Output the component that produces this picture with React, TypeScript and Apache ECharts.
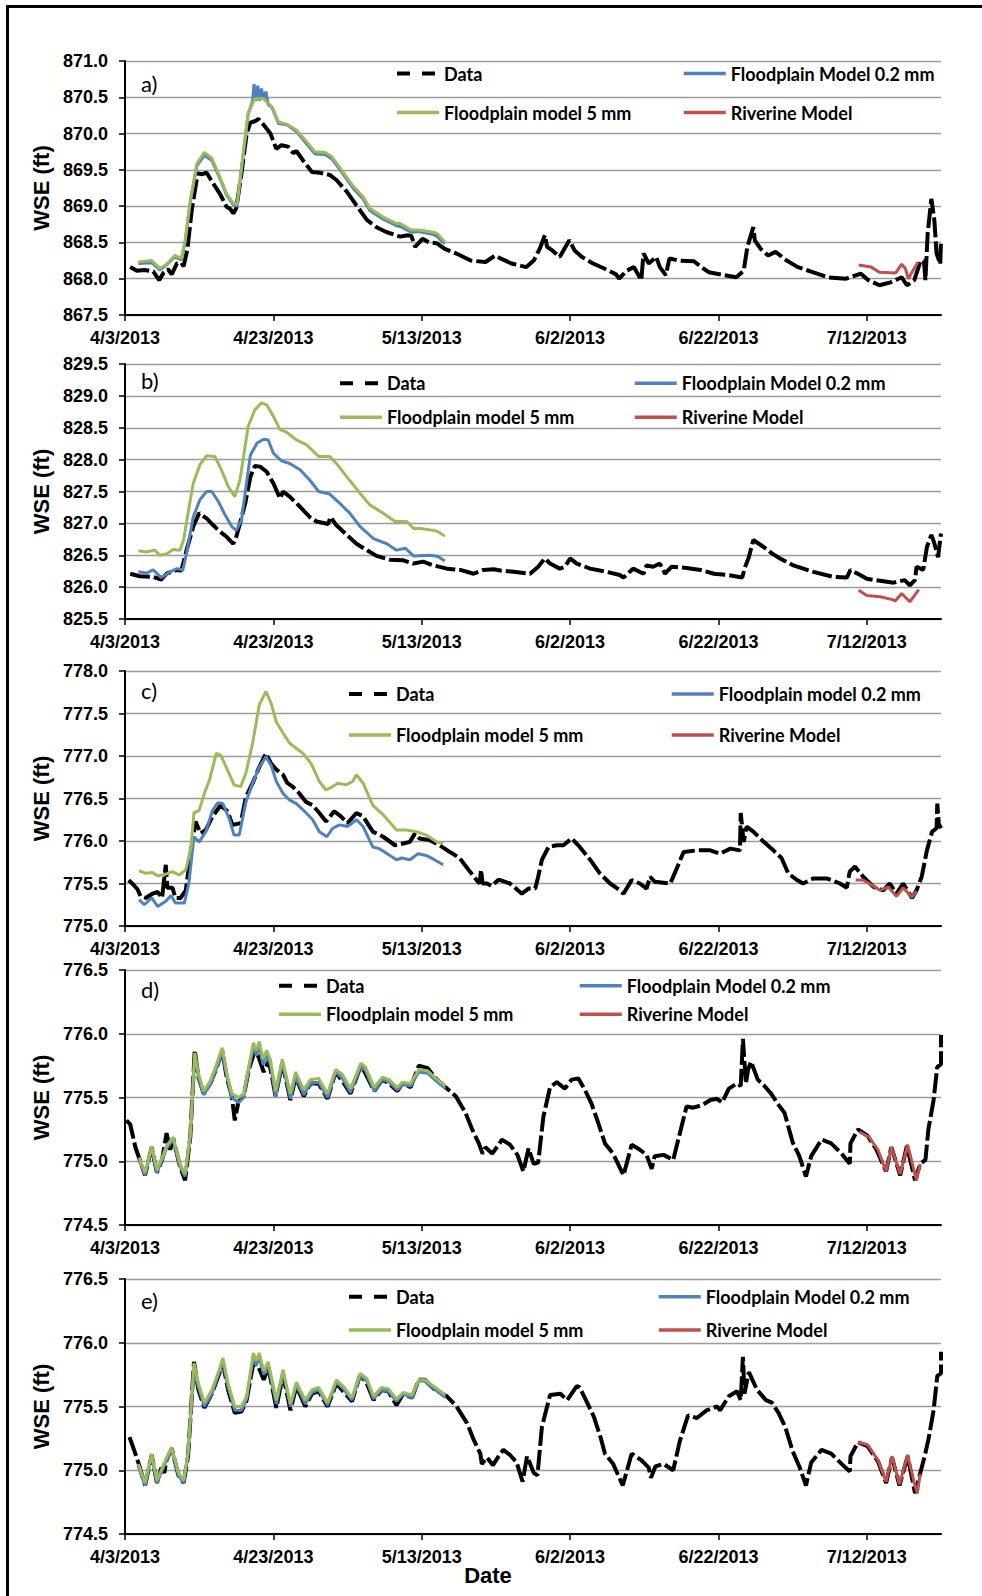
import React, { useEffect, useRef } from "react";
import * as echarts from "echarts";

// x values are days after 4/3/2013
const xTickDays = [0, 20, 40, 60, 80, 100];
const xTickLabels = ["4/3/2013", "4/23/2013", "5/13/2013", "6/2/2013", "6/22/2013", "7/12/2013"];
const panelLetters = ["a)", "b)", "c)", "d)", "e)"];
const yMins = [867.5, 825.5, 775.0, 774.5, 774.5];
const yMaxs = [871.0, 829.5, 778.0, 776.5, 776.5];
const dataName = "Data";
const coarseName = "Floodplain model 5 mm";
const riverName = "Riverine Model";
const fineNames = [
  "Floodplain Model 0.2 mm",
  "Floodplain Model 0.2 mm",
  "Floodplain model 0.2 mm",
  "Floodplain Model 0.2 mm",
  "Floodplain Model 0.2 mm",
];

// ---------- panel a ----------
const aData = [[0.7,868.16],[1.6,868.11],[2.6,868.12],[3.8,868.1],[4.6,867.98],[5.2,868.08],[5.8,868.13],[6.3,868.06],[7,868.21],[7.6,868.22],[7.9,868.17],[8.4,868.4],[9,868.95],[9.8,869.45],[10.4,869.44],[11,869.46],[11.9,869.31],[12.8,869.17],[13.7,868.99],[14.2,868.96],[14.6,868.9],[15,868.97],[15.7,869.45],[16.4,870.0],[16.9,870.15],[17.5,870.17],[18,870.2],[18.7,870.12],[19.6,870.0],[20.4,869.79],[21.1,869.84],[22,869.82],[22.7,869.73],[23.1,869.76],[24,869.63],[25.2,869.47],[26.3,869.46],[27.6,869.43],[28.5,869.36],[29.9,869.2],[31.2,869.01],[32.6,868.81],[33.9,868.71],[35.3,868.64],[37.1,868.58],[38.1,868.6],[38.6,868.59],[39.1,868.44],[40.1,868.55],[41,868.5],[42,868.49],[43.1,868.41],[44.6,868.35],[46.6,868.25],[48.6,868.23],[49.9,868.32],[50.6,868.28],[52.1,868.21],[54.1,868.16],[55.1,868.25],[55.9,868.41],[56.6,868.6],[56.9,868.44],[57.6,868.39],[58.6,868.3],[59.9,868.53],[60.6,868.39],[61.6,868.3],[63.1,868.21],[64.6,868.14],[66.2,868.06],[66.6,868.0],[67.6,868.11],[68.6,868.16],[69.6,867.98],[69.9,868.35],[70.6,868.21],[71.6,868.3],[72.1,868.16],[72.9,868.05],[73.4,868.28],[74.6,868.25],[76.7,868.24],[77.7,868.16],[78.7,868.09],[80.7,868.05],[82.4,868.02],[83.4,868.11],[83.9,868.44],[84.7,868.71],[84.9,868.53],[85.7,868.41],[86.7,868.32],[87.7,868.37],[89.2,868.25],[90.7,868.16],[92.7,868.09],[94.7,868.02],[97.2,868.0],[99.2,868.07],[100.2,867.98],[101.7,867.91],[103.2,867.95],[104.7,868.02],[105.4,867.91],[106.4,867.98],[107.2,868.23],[107.7,868.25],[107.9,867.98],[108.2,868.62],[108.7,869.1],[109.1,868.81],[109.4,868.35],[109.9,868.2],[110,868.53]];
const aFine = [[1.8,868.21],[3.6,868.22],[4.7,868.12],[5.6,868.19],[6.7,868.3],[7.6,868.26],[8.1,868.5],[8.8,869.05],[9.7,869.56],[10.7,869.7],[11.7,869.63],[12.8,869.38],[13.7,869.15],[14.6,869.02],[15.1,869.0],[15.7,869.5],[16.6,870.27],[17.2,870.45],[17.4,870.68],[17.6,870.45],[17.9,870.66],[18.1,870.45],[18.4,870.62],[18.7,870.47],[19.0,870.58],[19.3,870.4],[19.8,870.36],[20.7,870.14],[21.8,870.12],[23.1,870.03],[24.3,869.88],[25.6,869.72],[27,869.71],[27.9,869.65],[29.4,869.44],[30.8,869.24],[32.1,869.1],[33,868.94],[34.8,868.82],[36.6,868.73],[37.1,868.72],[38.6,868.64],[39.6,868.65],[41.6,868.61],[42.1,868.58],[43.1,868.48]];
const aCoarse = [[1.8,868.23],[3.6,868.25],[4.7,868.14],[5.6,868.2],[6.7,868.32],[7.6,868.28],[8.1,868.53],[8.8,869.08],[9.7,869.59],[10.7,869.74],[11.7,869.66],[12.8,869.4],[13.7,869.17],[14.6,869.04],[15.1,869.02],[15.7,869.54],[16.6,870.28],[17.5,870.48],[18.7,870.48],[19.8,870.37],[20.7,870.16],[21.8,870.13],[23.1,870.05],[24.3,869.91],[25.6,869.75],[27,869.74],[27.9,869.68],[29.4,869.47],[30.8,869.27],[32.1,869.13],[33,868.97],[34.8,868.85],[36.6,868.76],[37.1,868.76],[38.6,868.67],[39.6,868.67],[41.6,868.64],[42.1,868.62],[43.1,868.51]];
const aRiver = [[98.9,868.19],[100.6,868.16],[101.7,868.09],[103.9,868.08],[104.7,868.2],[105.2,868.14],[105.6,868.0],[106.2,868.11],[106.9,868.23]];

// ---------- panel b ----------
const bData = [[0.7,826.21],[2,826.17],[3.8,826.16],[4.9,826.12],[5.6,826.21],[7,826.27],[7.6,826.26],[8.3,826.58],[9.2,826.95],[10,827.16],[11,827.08],[11.9,826.97],[12.8,826.87],[13.7,826.79],[14.6,826.68],[15,826.79],[15.5,827.0],[16.2,827.31],[16.9,827.73],[17.5,827.9],[18.2,827.89],[19.1,827.81],[20,827.63],[20.9,827.39],[21.3,827.5],[22.2,827.42],[23.6,827.26],[24.9,827.1],[25.8,827.03],[27.4,826.99],[27.7,827.1],[28.5,826.97],[29.9,826.82],[31.2,826.68],[32.6,826.58],[33.9,826.49],[35.7,826.43],[37.5,826.42],[38.9,826.37],[40.2,826.4],[41.6,826.34],[43.4,826.29],[45.2,826.27],[47,826.21],[48.3,826.27],[49.7,826.28],[50.6,826.26],[52.4,826.24],[54.6,826.21],[55.7,826.32],[56.6,826.45],[57.3,826.37],[58.6,826.29],[59.3,826.32],[60,826.45],[60.9,826.37],[62.7,826.29],[64.9,826.24],[66.7,826.19],[67.2,826.15],[68.5,826.29],[69.9,826.21],[70.3,826.34],[71.2,826.32],[72.1,826.37],[72.8,826.21],[73.7,826.32],[75.7,826.3],[77.6,826.27],[79.4,826.21],[81.2,826.19],[83.2,826.15],[83.6,826.32],[84.1,826.47],[84.7,826.74],[85.2,826.7],[86.1,826.63],[87.2,826.53],[88.3,826.45],[90.1,826.34],[92.8,826.24],[95.5,826.16],[97.3,826.15],[97.8,826.27],[99.1,826.19],[100,826.13],[101.8,826.1],[103.6,826.07],[105.1,826.11],[105.8,826.03],[106.5,826.11],[106.7,826.32],[107.6,826.27],[108.1,826.63],[108.7,826.82],[109.1,826.69],[109.6,826.47],[110,826.84]];
const bFine = [[1.8,826.24],[2.9,826.22],[3.8,826.27],[4.9,826.15],[6.1,826.24],[7,826.29],[7.8,826.27],[8.3,826.53],[9.2,827.1],[10.1,827.37],[11,827.5],[11.7,827.5],[12.6,827.34],[13.5,827.13],[14.4,826.95],[15,826.89],[15.7,827.05],[16.9,828.07],[17.8,828.26],[18.7,828.32],[19.3,828.31],[20,828.1],[21.1,827.98],[22.2,827.94],[23.6,827.84],[24.9,827.68],[26.1,827.5],[27.6,827.46],[29,827.31],[30.3,827.16],[31.7,826.95],[33.5,826.76],[35.3,826.68],[36.6,826.58],[37.8,826.61],[38.9,826.49],[41.1,826.5],[42.2,826.48],[43.1,826.41]];
const bCoarse = [[1.8,826.57],[2.9,826.55],[4,826.58],[4.7,826.5],[5.6,826.52],[6.5,826.59],[7.4,826.58],[7.9,826.74],[8.5,827.16],[9.2,827.63],[10.1,827.92],[11,828.06],[12.1,828.05],[13,827.84],[13.9,827.58],[14.8,827.42],[15.5,827.68],[16.6,828.52],[17.5,828.78],[18.4,828.89],[19.1,828.86],[20,828.68],[20.9,828.47],[21.8,828.43],[23.1,828.31],[24.5,828.23],[26.1,828.05],[27.6,828.05],[28.5,827.94],[29.9,827.73],[31.7,827.47],[33,827.29],[34.8,827.16],[36.4,827.03],[38,827.03],[38.9,826.92],[39.8,826.92],[41.6,826.89],[42.2,826.87],[43.1,826.8]];
const bRiver = [[98.9,825.95],[100,825.87],[101.8,825.85],[103.6,825.8],[103.8,825.78],[104.7,825.9],[105.8,825.77],[107,825.96]];

// ---------- panel c ----------
const cData = [[0.5,775.54],[1.2,775.48],[1.7,775.43],[2.1,775.35],[2.8,775.33],[3.7,775.38],[4.4,775.4],[5,775.33],[5.5,775.72],[5.7,775.45],[6.4,775.45],[6.8,775.33],[7.5,775.33],[8.2,775.42],[8.9,775.89],[9.5,776.23],[10.2,776.09],[10.9,776.13],[11.8,776.29],[12.9,776.42],[13.8,776.35],[14.5,776.19],[15.6,776.21],[16.3,776.52],[17.2,776.68],[18.1,776.87],[19,777.03],[19.7,776.91],[20.4,776.84],[21.3,776.78],[21.9,776.68],[22.6,776.64],[23.5,776.56],[24.4,776.46],[25.3,776.42],[26.2,776.33],[27.1,776.23],[28.2,776.35],[29.1,776.29],[30,776.21],[31.2,776.33],[32.1,776.29],[33.4,776.11],[34.8,776.05],[36.4,775.95],[37.5,775.97],[38.4,775.99],[39.1,776.09],[39.7,776.03],[41.1,776.01],[42.4,775.95],[43.8,775.87],[45.1,775.8],[46.5,775.64],[47.4,775.54],[47.8,775.5],[48,775.66],[48.2,775.5],[48.8,775.5],[49.4,775.47],[50.3,775.54],[50.6,775.54],[51.9,775.5],[53.5,775.38],[54.4,775.44],[55.3,775.44],[55.7,775.58],[56.2,775.78],[57.1,775.93],[58.2,775.95],[59.1,775.95],[60.2,776.03],[61.3,775.93],[62.7,775.78],[64,775.62],[65.4,775.5],[66.7,775.42],[67.2,775.38],[68.3,775.54],[69.4,775.5],[70.3,775.44],[70.8,775.58],[71.4,775.52],[73.5,775.5],[74.3,775.66],[75.3,775.87],[77.1,775.89],[78.9,775.89],[80.2,775.85],[81.6,775.91],[82.9,775.89],[83,776.33],[83.4,775.99],[83.8,776.17],[84.7,776.11],[86.1,775.99],[87.4,775.89],[88.5,775.8],[89.4,775.62],[90.6,775.54],[91.4,775.5],[92.8,775.56],[94.6,775.56],[96.4,775.5],[97.3,775.45],[97.7,775.64],[98.4,775.7],[99.5,775.58],[100.9,775.46],[102.2,775.42],[103.1,775.5],[104,775.38],[104.9,775.5],[106.1,775.33],[106.7,775.42],[107.4,775.58],[108.1,775.89],[108.8,776.11],[109.4,776.15],[109.5,776.44],[109.7,776.2],[110,776.15]];
const cFine = [[1.9,775.31],[2.6,775.25],[3.6,775.33],[4.4,775.23],[5.5,775.29],[6.2,775.36],[6.8,775.27],[8,775.27],[8.6,775.5],[9.3,776.05],[10,775.99],[10.9,776.11],[11.8,776.36],[12.5,776.45],[13.2,776.44],[14.1,776.25],[14.7,776.07],[15.4,776.07],[16.3,776.46],[17.2,776.68],[18.1,776.87],[19,776.99],[19.7,776.89],[20.4,776.7],[21.3,776.56],[22.2,776.48],[23.1,776.44],[24.2,776.35],[25.3,776.25],[26.2,776.11],[27.2,776.05],[28,776.15],[28.9,776.19],[30,776.17],[31.2,776.25],[32.1,776.17],[33.4,775.93],[34.3,775.91],[35.5,775.84],[36.6,775.78],[37.3,775.8],[38.4,775.78],[39.5,775.85],[40.6,775.83],[41.7,775.78],[42.9,775.72]];
const cCoarse = [[1.9,775.65],[2.8,775.62],[3.7,775.63],[4.4,775.59],[5.5,775.61],[6.4,775.64],[7.3,775.6],[8.2,775.66],[8.9,775.93],[9.3,776.33],[10,776.36],[10.7,776.56],[11.4,776.72],[12.3,777.03],[12.9,777.01],[13.8,776.84],[14.7,776.66],[15.6,776.64],[16.3,776.8],[17.2,777.15],[18.1,777.6],[19,777.76],[19.7,777.62],[20.4,777.4],[21.3,777.27],[22.2,777.15],[23.1,777.09],[24,777.03],[25.1,776.91],[26.2,776.7],[27.1,776.6],[28,776.64],[28.7,776.68],[29.8,776.66],[30.7,776.7],[31.2,776.78],[32.1,776.68],[33.4,776.42],[34.8,776.31],[36.6,776.13],[37.9,776.13],[39.3,776.11],[40.6,776.07],[42,775.99],[42.9,775.97]];
const cRiver = [[98.5,775.54],[99.5,775.54],[100.7,775.48],[101.8,775.42],[102.9,775.46],[104,775.35],[104.9,775.45],[106.1,775.34],[106.7,775.41]];

// ---------- panel d ----------
const dData = [[0.2,775.32],[0.7,775.29],[1.4,775.11],[2,775.01],[2.7,774.89],[3.6,775.11],[4.3,774.91],[5,775.01],[5.6,775.22],[6.1,775.09],[6.5,775.18],[7.4,774.96],[8.1,774.85],[8.8,775.19],[9.4,775.87],[9.9,775.66],[10.6,775.53],[11.5,775.61],[12.4,775.74],[13.1,775.87],[13.7,775.66],[14.4,775.51],[14.8,775.32],[15.3,775.47],[16,775.51],[16.7,775.72],[17.5,775.87],[18,775.82],[18.7,775.7],[19.4,775.79],[20.3,775.51],[21.2,775.77],[22.3,775.48],[23,775.66],[24.1,775.51],[25,775.61],[26.1,775.61],[27.3,775.49],[28.4,775.7],[29.3,775.63],[30.4,775.53],[31.8,775.75],[32.4,775.69],[33.6,775.55],[34.7,775.64],[35.6,775.61],[36.7,775.55],[37.4,775.61],[38.5,775.58],[39.6,775.75],[40.8,775.73],[41.9,775.65],[43.2,775.58],[44.6,775.51],[45.9,775.38],[46.8,775.25],[47.7,775.14],[48.2,775.06],[48.6,775.11],[49.5,775.06],[50.5,775.14],[50.8,775.17],[51.9,775.13],[52.9,775.05],[53.7,774.92],[54.4,775.1],[55.1,774.98],[55.7,774.99],[56.4,775.35],[57.3,775.58],[58.2,775.62],[59.3,775.57],[60.2,775.64],[61.1,775.65],[62,775.56],[62.9,775.45],[63.8,775.3],[64.7,775.14],[65.8,775.06],[67.2,774.89],[68.3,775.13],[69.4,775.09],[70.3,775.05],[71,774.94],[71.4,775.04],[72.6,775.05],[73.9,775.01],[74.8,775.22],[75.7,775.43],[76.6,775.42],[77.8,775.44],[78.9,775.48],[79.8,775.49],[80.5,775.46],[81.4,775.57],[82.5,775.61],[83,775.59],[83.3,775.96],[83.7,775.61],[84,775.72],[84.4,775.78],[85.3,775.64],[86.2,775.59],[87.1,775.53],[88,775.45],[88.9,775.38],[90,775.15],[90.9,775.04],[91.8,774.88],[92.5,775.04],[93.9,775.17],[95.2,775.14],[96.6,775.06],[97.7,774.98],[97.8,775.14],[98.8,775.25],[100.1,775.2],[101.3,775.09],[102.6,774.92],[103.3,775.11],[104.5,774.89],[105.4,775.12],[106.5,774.85],[107.2,774.98],[107.9,775.01],[108.3,775.25],[109,775.48],[109.5,775.74],[110,775.76],[110,775.99]];
const dFine = [[1.9,775.01],[2.7,774.89],[3.6,775.1],[4.3,774.91],[5,775.01],[5.6,775.1],[6.5,775.17],[7.4,774.96],[8.1,774.88],[8.8,775.19],[9.4,775.83],[9.9,775.66],[10.6,775.52],[11.5,775.6],[12.4,775.74],[13.1,775.86],[13.7,775.67],[14.4,775.5],[15.3,775.46],[16,775.5],[16.7,775.72],[17.3,775.9],[17.7,775.83],[18.1,775.9],[18.6,775.76],[19.1,775.83],[19.6,775.76],[20.3,775.51],[21.2,775.77],[22.3,775.49],[23,775.67],[24.1,775.52],[25,775.61],[26.1,775.62],[27.3,775.5],[28.4,775.7],[29.3,775.65],[30.4,775.54],[31.8,775.75],[32.4,775.71],[33.6,775.55],[34.7,775.64],[35.6,775.62],[36.7,775.56],[37.4,775.6],[38.5,775.59],[39.6,775.7],[40.8,775.69],[41.9,775.63],[43.2,775.57]];
const dCoarse = [[1.9,775.03],[2.7,774.91],[3.6,775.12],[4.3,774.93],[5,775.03],[5.6,775.12],[6.5,775.19],[7.4,774.98],[8.1,774.9],[8.8,775.21],[9.4,775.85],[9.9,775.69],[10.6,775.55],[11.5,775.63],[12.4,775.77],[13.1,775.89],[13.7,775.7],[14.4,775.53],[15.3,775.5],[16,775.53],[16.7,775.75],[17.3,775.93],[17.7,775.87],[18.1,775.94],[18.6,775.8],[19.1,775.87],[19.6,775.8],[20.3,775.55],[21.2,775.8],[22.3,775.53],[23,775.7],[24.1,775.56],[25,775.64],[26.1,775.65],[27.3,775.53],[28.4,775.72],[29.3,775.68],[30.4,775.57],[31.8,775.77],[32.4,775.74],[33.6,775.58],[34.7,775.66],[35.6,775.64],[36.7,775.58],[37.4,775.62],[38.5,775.61],[39.6,775.72],[40.8,775.71],[41.9,775.65],[43.2,775.59]];
const dRiver = [[99,775.23],[100.3,775.19],[101.5,775.09],[102.6,774.92],[103.3,775.11],[104.5,774.9],[105.5,775.13],[106.7,774.85],[107.2,774.98]];

// ---------- panel e ----------
const eData = [[0.6,775.26],[1.1,775.18],[1.8,775.06],[2.7,774.88],[3.6,775.12],[4.3,774.9],[4.9,775.02],[5.3,774.98],[5.6,775.08],[6.3,775.17],[7.2,774.96],[7.9,774.9],[8.5,775.11],[9.3,775.85],[9.9,775.63],[10.7,775.49],[11.7,775.6],[12.6,775.74],[13.2,775.84],[13.9,775.63],[14.8,775.45],[15.7,775.46],[16.4,775.55],[17.3,775.84],[18,775.81],[18.7,775.71],[19.3,775.81],[20.4,775.49],[21.3,775.75],[22.3,775.47],[23.1,775.66],[24.3,775.5],[25.2,775.6],[26.1,775.62],[27.3,775.5],[28.5,775.68],[29.4,775.62],[30.6,775.54],[31.7,775.75],[32.6,775.68],[33.5,775.55],[34.6,775.63],[35.5,775.62],[36.6,775.51],[37.5,775.6],[38.7,775.57],[39.6,775.71],[40.4,775.71],[41.6,775.64],[43.4,775.58],[44.7,775.5],[46.1,775.37],[47,775.24],[47.9,775.13],[48.1,775.05],[48.8,775.1],[49.6,775.04],[50.6,775.13],[51,775.16],[51.9,775.12],[52.8,775.06],[53.6,774.91],[54.2,775.11],[55.1,774.98],[55.6,774.96],[56.2,775.34],[57.3,775.59],[58.7,775.6],[59.6,775.55],[60.9,775.66],[61.3,775.65],[62.3,775.53],[63.2,775.42],[64.1,775.26],[64.7,775.13],[65.8,775.05],[67.1,774.88],[68.3,775.13],[69.6,775.08],[70.6,775.02],[70.9,774.94],[71.5,775.03],[72.6,775.05],[73.9,775.0],[74.8,775.23],[75.9,775.43],[77.1,775.41],[78.4,775.47],[79.8,775.5],[80.2,775.47],[81.4,775.58],[82.5,775.62],[83,775.55],[83.3,775.89],[83.5,775.6],[84.1,775.77],[85.2,775.63],[86.4,775.55],[87.2,775.53],[88.1,775.45],[89,775.34],[90,775.15],[90.9,775.03],[91.8,774.88],[92.5,775.06],[93.9,775.16],[95.2,775.13],[96.6,775.05],[97.7,774.99],[97.8,775.11],[98.8,775.22],[100.1,775.19],[101.5,775.07],[102.6,774.9],[103.4,775.1],[104.4,774.88],[105.5,775.11],[106.5,774.82],[107.3,775.0],[107.8,775.11],[108.3,775.24],[109,775.47],[109.5,775.74],[110,775.76],[110,775.93]];
const eFine = [[1.8,775.03],[2.7,774.88],[3.6,775.11],[4.3,774.9],[5.6,775.08],[6.3,775.16],[7.2,774.96],[7.9,774.9],[8.5,775.12],[9.3,775.82],[9.9,775.65],[10.7,775.5],[11.7,775.6],[12.6,775.75],[13.2,775.85],[13.9,775.65],[14.8,775.47],[15.7,775.47],[16.4,775.56],[17.3,775.89],[17.7,775.82],[18.1,775.89],[18.7,775.75],[19.3,775.82],[20.4,775.52],[21.3,775.77],[22.3,775.5],[23.1,775.67],[24.3,775.52],[25.2,775.61],[26.1,775.63],[27.3,775.51],[28.5,775.69],[29.4,775.64],[30.6,775.55],[31.7,775.74],[32.6,775.7],[33.5,775.56],[34.6,775.63],[35.5,775.62],[36.6,775.54],[37.5,775.6],[38.7,775.57],[39.6,775.7],[40.4,775.7],[41.6,775.64],[43.2,775.57]];
const eCoarse = [[1.8,775.05],[2.7,774.9],[3.6,775.13],[4.3,774.92],[5.6,775.1],[6.3,775.18],[7.2,774.98],[7.9,774.92],[8.5,775.14],[9.3,775.84],[9.9,775.68],[10.7,775.53],[11.7,775.63],[12.6,775.77],[13.2,775.88],[13.9,775.68],[14.8,775.5],[15.7,775.5],[16.4,775.58],[17.3,775.92],[17.7,775.86],[18.1,775.92],[18.7,775.78],[19.3,775.85],[20.4,775.55],[21.3,775.79],[22.3,775.52],[23.1,775.69],[24.3,775.55],[25.2,775.63],[26.1,775.65],[27.3,775.53],[28.5,775.71],[29.4,775.66],[30.6,775.57],[31.7,775.76],[32.6,775.72],[33.5,775.58],[34.6,775.65],[35.5,775.64],[36.6,775.56],[37.5,775.61],[38.7,775.59],[39.6,775.71],[40.4,775.71],[41.6,775.66],[43.2,775.59]];
const eRiver = [[98.8,775.22],[100.1,775.2],[101.5,775.08],[102.6,774.91],[103.4,775.11],[104.4,774.89],[105.5,775.12],[106.4,774.9],[106.8,774.82],[107.2,774.97]];

const panelSeries = [
  { data: aData, fine: aFine, coarse: aCoarse, river: aRiver },
  { data: bData, fine: bFine, coarse: bCoarse, river: bRiver },
  { data: cData, fine: cFine, coarse: cCoarse, river: cRiver },
  { data: dData, fine: dFine, coarse: dCoarse, river: dRiver },
  { data: eData, fine: eFine, coarse: eCoarse, river: eRiver },
];

// ---------- layout (pixels) ----------
const layout = [
  { top: 61, height: 254, letterY: 83, legTop: 64.5, legGap: 21, col1: 395, col2: 682 },
  { top: 364, height: 255, letterY: 380, legTop: 374.3, legGap: 16, col1: 338, col2: 633 },
  { top: 671, height: 255, letterY: 690, legTop: 685, legGap: 23, col1: 347, col2: 670 },
  { top: 970, height: 255, letterY: 989, legTop: 976.7, legGap: 10.6, col1: 277, col2: 578 },
  { top: 1279, height: 255, letterY: 1300, legTop: 1287.7, legGap: 15.3, col1: 347, col2: 657 },
];

const COLORS = { data: "#000000", fine: "#4F81BD", coarse: "#9BBB59", river: "#C0504D" };
const AX_FONT = "'Liberation Sans', Arial, sans-serif";
const LEG_FONT = "Lato, 'Open Sans', sans-serif";

function buildOption() {
  const grids: any[] = [];
  const xAxes: any[] = [];
  const yAxes: any[] = [];
  const series: any[] = [];
  const legends: any[] = [];
  const graphics: any[] = [];

  layout.forEach((L, i) => {
    grids.push({ left: 125, width: 816, top: L.top, height: L.height, containLabel: false, outerBoundsMode: "none" });
    xAxes.push({
      type: "value",
      gridIndex: i,
      min: 0,
      max: 110,
      interval: 20,
      axisLine: { show: true, onZero: false, lineStyle: { color: "#000", width: 2 } },
      axisTick: { show: true, length: 6, customValues: xTickDays, lineStyle: { color: "#000", width: 1.5 } },
      axisLabel: {
        customValues: xTickDays,
        margin: 14,
        color: "#000",
        fontFamily: AX_FONT,
        fontWeight: "bold",
        fontSize: 18,
        formatter: (v: number) => {
          const k = xTickDays.indexOf(Math.round(v));
          return k >= 0 ? xTickLabels[k] : "";
        },
      },
      splitLine: { show: false },
    });
    yAxes.push({
      type: "value",
      gridIndex: i,
      min: yMins[i],
      max: yMaxs[i],
      interval: 0.5,
      name: "WSE (ft)",
      nameLocation: "middle",
      nameGap: 70,
      nameTextStyle: { color: "#000", fontFamily: AX_FONT, fontWeight: "bold", fontSize: 22 },
      axisLine: { show: true, lineStyle: { color: "#000", width: 2 } },
      axisTick: { show: true, length: 6, lineStyle: { color: "#000", width: 1.5 } },
      axisLabel: {
        margin: 17,
        color: "#000",
        fontFamily: AX_FONT,
        fontWeight: "bold",
        fontSize: 18,
        formatter: (v: number) => v.toFixed(1),
      },
      splitLine: { show: true, lineStyle: { color: "#9c9c9c", width: 1.3 } },
    });

    const P = panelSeries[i];
    const common = {
      type: "line",
      xAxisIndex: i,
      yAxisIndex: i,
      symbol: "none",
      showSymbol: false,
      silent: true,
      emphasis: { disabled: true },
      clip: true,
    };
    series.push({ ...common, name: dataName, data: P.data, z: 2, lineStyle: { color: COLORS.data, width: 4, type: [20, 4] } });
    series.push({ ...common, name: fineNames[i], data: P.fine, z: 3, lineStyle: { color: COLORS.fine, width: 3 } });
    series.push({ ...common, name: coarseName, data: P.coarse, z: 4, lineStyle: { color: COLORS.coarse, width: 3 } });
    series.push({ ...common, name: riverName, data: P.river, z: 5, lineStyle: { color: COLORS.river, width: 3 } });

    const legBase = {
      orient: "vertical",
      top: L.legTop,
      padding: 0,
      itemWidth: 42,
      itemHeight: 18,
      itemGap: L.legGap,
      selectedMode: false,
      itemStyle: { opacity: 0 },
      textStyle: { color: "#000", fontFamily: LEG_FONT, fontWeight: "bold", fontSize: 18 },
    };
    legends.push({
      ...legBase,
      left: L.col1,
      data: [
        { name: dataName, lineStyle: { width: 4, type: [13, 12], color: "#000" }, itemStyle: { opacity: 0 } },
        { name: coarseName, lineStyle: { width: 3.5, type: "solid", color: COLORS.coarse }, itemStyle: { opacity: 0 } },
      ],
    });
    legends.push({
      ...legBase,
      left: L.col2,
      data: [
        { name: fineNames[i], lineStyle: { width: 3.5, type: "solid", color: COLORS.fine }, itemStyle: { opacity: 0 } },
        { name: riverName, lineStyle: { width: 3.5, type: "solid", color: COLORS.river }, itemStyle: { opacity: 0 } },
      ],
    });

    graphics.push({
      type: "text",
      x: 141,
      y: L.letterY,
      style: {
        text: panelLetters[i],
        fill: "#000",
        fontFamily: LEG_FONT,
        fontWeight: "normal",
        fontSize: 22,
        align: "left",
        verticalAlign: "middle",
        textAlign: "left",
        textVerticalAlign: "middle",
      },
    });
  });

  graphics.push({
    type: "line",
    shape: { x1: 6, y1: 6.5, x2: 982, y2: 6.5 },
    style: { stroke: "#000", lineWidth: 3 },
  });
  graphics.push({
    type: "line",
    shape: { x1: 7.5, y1: 5, x2: 7.5, y2: 1596 },
    style: { stroke: "#000", lineWidth: 3 },
  });
  graphics.push({
    type: "text",
    x: 488,
    y: 1575,
    style: {
      text: "Date",
      fill: "#000",
      fontFamily: AX_FONT,
      fontWeight: "bold",
      fontSize: 22,
      align: "center",
      verticalAlign: "middle",
      textAlign: "center",
      textVerticalAlign: "middle",
    },
  });

  return {
    animation: false,
    backgroundColor: "#ffffff",
    grid: grids,
    xAxis: xAxes,
    yAxis: yAxes,
    series,
    legend: legends,
    graphic: { elements: graphics },
  };
}

export default function App() {
  const ref = useRef<HTMLDivElement | null>(null);
  useEffect(() => {
    if (!ref.current) return;
    const chart = echarts.init(ref.current, null, { renderer: "svg" });
    chart.setOption(buildOption() as any);
    return () => chart.dispose();
  }, []);
  return (
    <div
      ref={ref}
      style={{ position: "absolute", left: 0, top: 0, width: 982, height: 1596, background: "#fff" }}
    />
  );
}
